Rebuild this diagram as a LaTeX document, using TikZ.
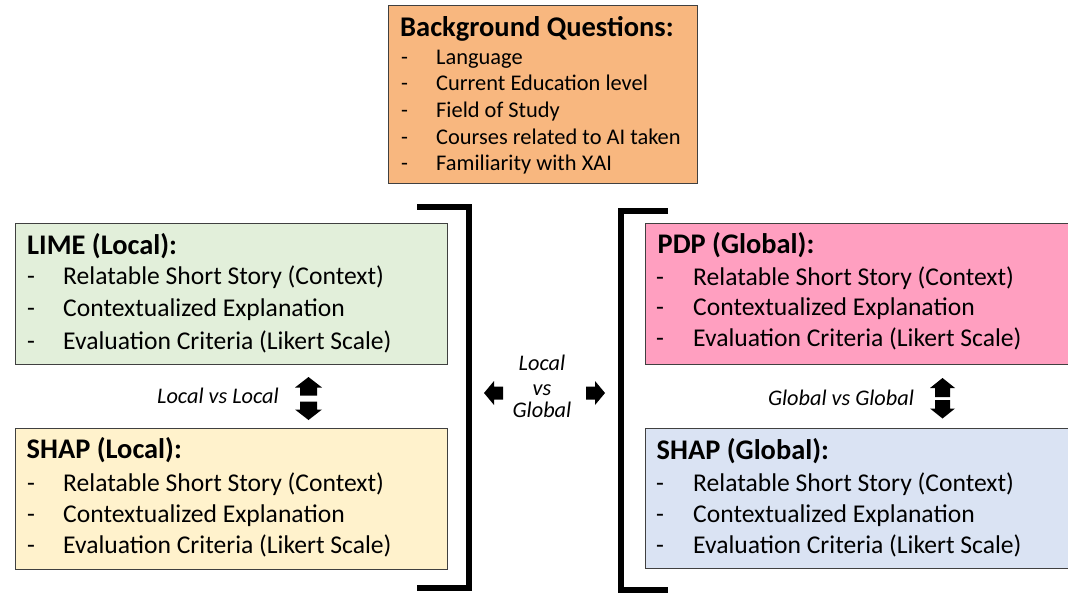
\documentclass[tikz,border=0pt]{standalone}
\usepackage{fontspec}
\setmainfont{Carlito}
\definecolor{cTop}{HTML}{F8B77F}
\definecolor{cLime}{HTML}{E2EFDA}
\definecolor{cShapL}{HTML}{FFF2CC}
\definecolor{cPdp}{HTML}{FF9FC0}
\definecolor{cShapG}{HTML}{DAE3F3}
\definecolor{cBorder}{HTML}{404040}
\tikzset{
  box/.style={draw=cBorder, line width=1.2pt, rectangle, anchor=north west, inner sep=0pt},
  ttitle/.style={font=\fontsize{28.5}{32}\selectfont\bfseries, anchor=base west, inner sep=0pt},
  titem/.style={font=\fontsize{22.4}{26}\selectfont, anchor=base west, inner sep=0pt},
  btitle/.style={font=\fontsize{28.4}{32}\selectfont\bfseries, anchor=base west, inner sep=0pt},
  bitem/.style={font=\fontsize{25.6}{30}\selectfont, anchor=base west, inner sep=0pt},
  lab/.style={font=\fontsize{22.3}{26}\selectfont\itshape, anchor=base, inner sep=0pt},
  brack/.style={line width=6pt, line join=miter, line cap=butt},
  blockarrow/.style={fill=black}
}
\begin{document}
\begin{tikzpicture}[x=1pt,y=-1pt]
\clip (0,0) rectangle (1068,592);
\fill[white] (0,0) rectangle (1068,592);

% ---------- top box ----------
\node[box, fill=cTop, minimum width=309pt, minimum height=178pt] (bg) at (388,5) {};
\node[ttitle] (bg-t) at (400,36.7) {Background Questions:};
\foreach \y/\t [count=\i] in {64/Language, 90.7/Current Education level, 117.3/Field of Study, 144/Courses related to AI taken, 170/Familiarity with XAI}{
  \node[titem] (bg-d\i) at (401,\y) {-};
  \node[titem] (bg-i\i) at (436,\y) {\t};
}

% ---------- LIME ----------
\node[box, fill=cLime, minimum width=432pt, minimum height=141pt] (lime) at (15,223) {};
\node[btitle] (lime-t) at (27,254) {LIME (Local):};
\foreach \y/\t [count=\i] in {284.5/Relatable Short Story (Context), 316.5/Contextualized Explanation, 349.5/Evaluation Criteria (Likert Scale)}{
  \node[bitem] (lime-d\i) at (27,\y) {-};
  \node[bitem] (lime-i\i) at (63,\y) {\t};
}

% ---------- SHAP local ----------
\node[box, fill=cShapL, minimum width=432pt, minimum height=141pt] (shapl) at (15,428) {};
\node[btitle] (shapl-t) at (26.5,458.5) {SHAP (Local):};
\foreach \y/\t [count=\i] in {491.5/Relatable Short Story (Context), 522/Contextualized Explanation, 553.5/Evaluation Criteria (Likert Scale)}{
  \node[bitem] (shapl-d\i) at (27,\y) {-};
  \node[bitem] (shapl-i\i) at (63,\y) {\t};
}

% ---------- PDP ----------
\node[box, fill=cPdp, minimum width=440pt, minimum height=141pt] (pdp) at (645,223) {};
\node[btitle] (pdp-t) at (657.5,253.5) {PDP (Global):};
\foreach \y/\t [count=\i] in {285.5/Relatable Short Story (Context), 315.5/Contextualized Explanation, 346.5/Evaluation Criteria (Likert Scale)}{
  \node[bitem] (pdp-d\i) at (656,\y) {-};
  \node[bitem] (pdp-i\i) at (693,\y) {\t};
}

% ---------- SHAP global ----------
\node[box, fill=cShapG, minimum width=440pt, minimum height=140pt] (shapg) at (645,428) {};
\node[btitle] (shapg-t) at (656.5,459) {SHAP (Global):};
\foreach \y/\t [count=\i] in {491.5/Relatable Short Story (Context), 522/Contextualized Explanation, 553/Evaluation Criteria (Likert Scale)}{
  \node[bitem] (shapg-d\i) at (656,\y) {-};
  \node[bitem] (shapg-i\i) at (693,\y) {\t};
}

% ---------- brackets ----------
\draw[brack] (417,206.5) -- (469,206.5) -- (469,587.5) -- (417,587.5);
\draw[brack] (668,210.5) -- (621,210.5) -- (621,589.5) -- (668,589.5);

% ---------- middle labels ----------
\node[lab] (m1) at (542,370) {Local};
\node[lab] (m2) at (542,395) {vs};
\node[lab] (m3) at (542,417) {Global};
\node[lab] (ll) at (218,403) {Local vs Local};
\node[lab] (gg) at (841,405) {Global vs Global};

% ---------- block arrows ----------
% left / right
\fill[blockarrow] (484,393) -- (494,381) -- (494,386.5) -- (503,386.5) -- (503,399.5) -- (494,399.5) -- (494,405) -- cycle;
\fill[blockarrow] (605,393) -- (595,381) -- (595,386.5) -- (586,386.5) -- (586,399.5) -- (595,399.5) -- (595,405) -- cycle;
% local up / down
\fill[blockarrow] (308.5,377) -- (322,387.5) -- (317,387.5) -- (317,395.5) -- (300,395.5) -- (300,387.5) -- (295,387.5) -- cycle;
\fill[blockarrow] (308.5,420) -- (322,409.5) -- (317,409.5) -- (317,401.5) -- (300,401.5) -- (300,409.5) -- (295,409.5) -- cycle;
% global up / down
\fill[blockarrow] (942.5,378) -- (955,388) -- (950,388) -- (950,397) -- (935,397) -- (935,388) -- (930,388) -- cycle;
\fill[blockarrow] (942.5,418.5) -- (955,408.5) -- (950,408.5) -- (950,400) -- (935,400) -- (935,408.5) -- (930,408.5) -- cycle;
\end{tikzpicture}
\end{document}
